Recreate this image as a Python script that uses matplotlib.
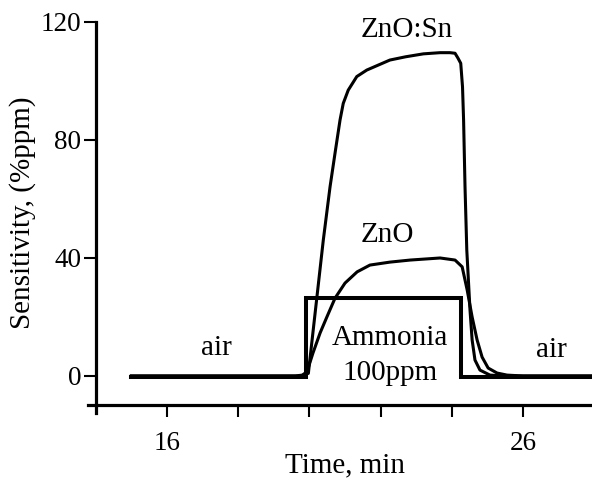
import matplotlib
matplotlib.use('Agg')
import matplotlib.pyplot as plt

plt.rcParams['font.family'] = ['Liberation Serif', 'DejaVu Serif']

# ammonia on/off step
step_t = [15.0, 19.9, 19.9, 24.27, 24.27, 28.0]
step_v = [-0.5, -0.5, 26.4, 26.4, -0.5, -0.5]

# ZnO:Sn response
znosn_t = [15.0, 19.7, 19.85, 19.97, 20.39, 20.58, 20.72, 20.86, 20.95, 21.09,
           21.33, 21.61, 22.26, 22.7, 23.2, 23.67, 23.95, 24.09, 24.17, 24.25,
           24.3, 24.33, 24.37, 24.42, 24.51, 24.57, 24.65, 24.79, 25.07, 25.5, 28.0]
znosn_v = [0, 0, 0.3, 0.9, 46.1, 64.2, 75.6, 86.8, 92.4, 96.9,
           101.5, 103.7, 107.1, 108.2, 109.2, 109.6, 109.6, 109.4, 107.8, 106,
           98, 86.8, 64.2, 42.7, 22.4, 12.2, 5.4, 2.0, 0.3, 0, 0]

# ZnO response
zno_t = [15.0, 19.6, 19.8, 19.93, 20.1, 20.3, 20.49, 20.72, 21.0, 21.34,
         21.7, 22.26, 22.83, 23.67, 24.09, 24.29, 24.43, 24.57, 24.71, 24.85,
         25.02, 25.27, 25.55, 26.0, 28.0]
zno_v = [0, 0, 0.3, 1.4, 7.8, 14.6, 20.0, 26.4, 31.5, 35.3,
         37.6, 38.6, 39.3, 40.0, 39.3, 37.0, 29.2, 20.0, 12.2, 6.4,
         2.7, 1.0, 0.3, 0, 0]

y_ticks = [0, 40, 80, 120]
x_ticks = [16, 18, 20, 22, 24, 26]
x_ticklabels = ['16', '', '', '', '', '26']

fs = 21

fig = plt.figure(figsize=(5.92, 4.79), dpi=100)
ax = fig.add_axes([0.1468, 0.135, 0.857, 0.8314])

ax.plot(zno_t, zno_v, color='black', lw=2.2, solid_joinstyle='round')
ax.plot(znosn_t, znosn_v, color='black', lw=2.2, solid_joinstyle='round')
ax.plot(step_t, step_v, color='black', lw=2.9, solid_joinstyle='miter')

ax.set_xlim(13.75, 28.0)
ax.set_ylim(-13, 122)

ax.spines['top'].set_visible(False)
ax.spines['right'].set_visible(False)
ax.spines['left'].set_position(('data', 14))
ax.spines['bottom'].set_position(('data', -10))
ax.spines['left'].set_bounds(-12.5, 120)
ax.spines['bottom'].set_bounds(13.78, 28.0)
for s in ['left', 'bottom']:
    ax.spines[s].set_linewidth(2.3)

ax.set_yticks(y_ticks)
ax.set_xticks(x_ticks)
ax.set_xticklabels(x_ticklabels)
ax.tick_params(axis='both', direction='out', length=8.5, width=1.5,
               labelsize=19.5, pad=2)
ax.tick_params(axis='x', pad=10)

ax.set_ylabel('Sensitivity, (%ppm)', fontsize=fs)
ax.set_xlabel('Time, min', fontsize=fs, va='top')
ax.yaxis.set_label_coords(-0.1, 0.506)
ax.xaxis.set_label_coords(0.509, -0.095)

ax.text(22.74, 115, 'ZnO:Sn', fontsize=fs, ha='center', va='baseline')
ax.text(22.19, 45.4, 'ZnO', fontsize=fs, ha='center', va='baseline')
ax.text(22.25, 10.5, 'Ammonia', fontsize=fs, ha='center', va='baseline')
ax.text(22.26, -1.4, '100ppm', fontsize=fs, ha='center', va='baseline')
ax.text(17.4, 7.1, 'air', fontsize=fs, ha='center', va='baseline')
ax.text(26.8, 6.4, 'air', fontsize=fs, ha='center', va='baseline')

fig.savefig('out.png', dpi=100)
